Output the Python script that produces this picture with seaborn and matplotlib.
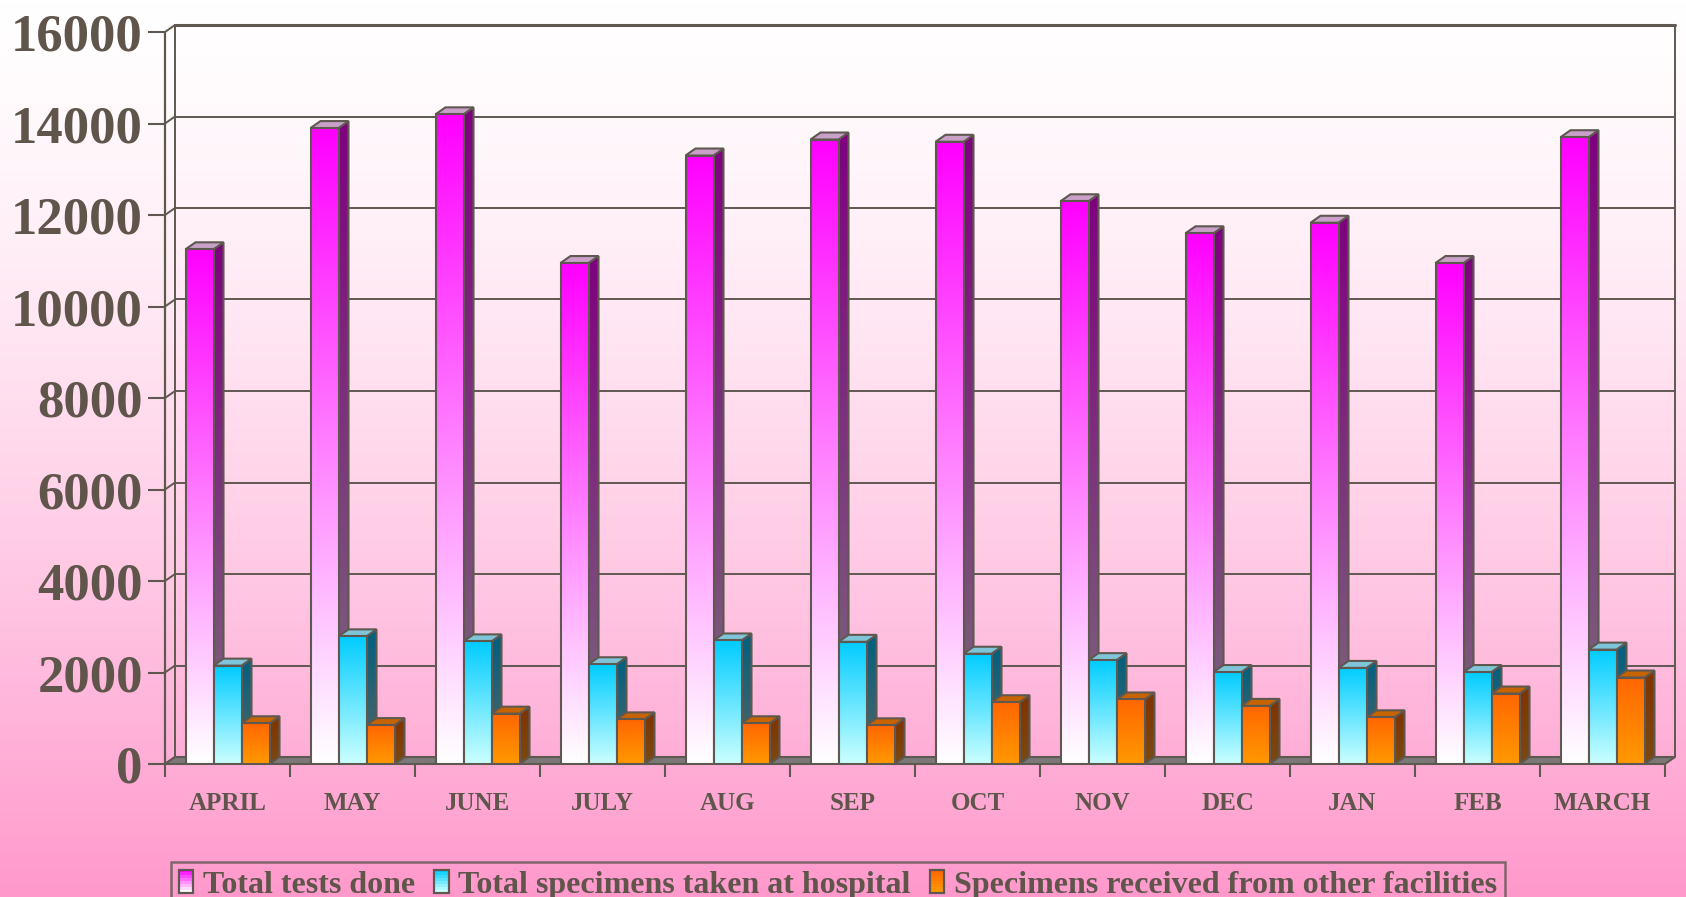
import numpy as np
import pandas as pd
import seaborn as sns
import matplotlib.pyplot as plt
from matplotlib.patches import Polygon, Patch, Rectangle
from matplotlib.legend_handler import HandlerBase
from matplotlib.colors import to_rgb

# Data
months = ['APRIL', 'MAY', 'JUNE', 'JULY', 'AUG', 'SEP', 'OCT', 'NOV', 'DEC', 'JAN', 'FEB', 'MARCH']
series_names = ['Total tests done', 'Total specimens taken at hospital',
                'Specimens received from other facilities']
total_tests = [11250, 13900, 14200, 10950, 13300, 13650, 13600, 12300, 11600, 11830, 10950, 13700]
hospital = [2150, 2790, 2680, 2180, 2700, 2670, 2410, 2270, 2010, 2100, 2010, 2500]
other_facilities = [890, 850, 1100, 975, 890, 845, 1350, 1410, 1270, 1020, 1540, 1890]
yticks = [0, 2000, 4000, 6000, 8000, 10000, 12000, 14000, 16000]

# Styles
sns.set_theme(style='white')
plt.rcParams['font.family'] = ['Liberation Serif', 'DejaVu Serif']
plt.rcParams['font.weight'] = 'bold'

line_c = '#5f5850'
text_c = '#5f554b'
front_cols = [('#ff00ff', '#ffffff'), ('#00ccff', '#ccffff'), ('#ff6600', '#ff9900')]
side_cols = [('#800080', '#7a6c7a'), ('#006080', '#5a6464'), ('#803300', '#7a4a14')]
top_cols = ['#c8a0c8', '#80c4d8', '#c86400']


def grad(top, bottom, n=256, power=1.0):
    t = (np.linspace(0, 1, n) ** power)[:, None, None]
    return np.asarray(to_rgb(top))[None, None, :] * (1 - t) + np.asarray(to_rgb(bottom))[None, None, :] * t


class GradHandler(HandlerBase):
    # legend key: little box with vertical gradient
    def __init__(self, top, bottom):
        super().__init__()
        self.top, self.bottom = top, bottom

    def create_artists(self, legend, orig_handle, xdescent, ydescent, width, height, fontsize, trans):
        n = 8
        cols = grad(self.top, self.bottom, n=n)[:, 0, :]
        arts = []
        for i in range(n):
            y = -ydescent + height * (1 - (i + 1) / n)
            arts.append(Rectangle((-xdescent, y), width, height / n + 0.3, fc=cols[i], ec='none',
                                  transform=trans))
        arts.append(Rectangle((-xdescent, -ydescent), width, height, fc='none', ec=line_c, lw=1.6,
                              transform=trans))
        return arts


df = pd.DataFrame({
    'month': months * 3,
    'value': total_tests + hospital + other_facilities,
    'series': np.repeat(series_names, len(months)),
})

W, H = 1686, 897
fig = plt.figure(figsize=(W / 100, H / 100), dpi=100)

# background gradient
bg = fig.add_axes([0, 0, 1, 1], zorder=-5)
bg.imshow(grad('#ffffff', '#ff99cc', power=1.4), aspect='auto', extent=[0, 1, 0, 1])
bg.axis('off')

# 3D geometry (pixels -> data units)
x_px, y_px = 125.0, 732.0 / 16000
ddx, ddy = 10 / x_px, 7 / y_px
x0, x1 = -0.5, len(months) - 0.5
ytop = 16000 + ddy
ax = fig.add_axes([165 / W, (H - 764) / H, (x1 + ddx - x0) * x_px / W, ytop * y_px / H])
ax.set_facecolor('none')

sns.barplot(data=df, x='month', y='value', hue='series', order=months, hue_order=series_names,
            palette=[c[0] for c in front_cols], width=0.672, saturation=1, legend=False, ax=ax)

for k, cont in enumerate(ax.containers):
    base = 2 + k
    for rect in cont:
        x, w, h = rect.get_x(), rect.get_width(), rect.get_height()
        # front face
        ax.imshow(grad(*front_cols[k]), extent=[x, x + w, 0, h], aspect='auto',
                  interpolation='bilinear', zorder=base + 0.3)
        rect.set_facecolor('none')
        rect.set_edgecolor(line_c)
        rect.set_linewidth(1.5)
        rect.set_zorder(base + 0.4)
        # side face
        side = Polygon([(x + w, 0), (x + w + ddx, ddy), (x + w + ddx, h + ddy), (x + w, h)],
                       closed=True, fc='none', ec=line_c, lw=1.5, zorder=base + 0.2)
        ax.add_patch(side)
        im = ax.imshow(grad(*side_cols[k]), extent=[x + w, x + w + ddx, 0, h + ddy], aspect='auto',
                       interpolation='bilinear', zorder=base + 0.1)
        im.set_clip_path(side)
        # top face
        ax.add_patch(Polygon([(x, h), (x + w, h), (x + w + ddx, h + ddy), (x + ddx, h + ddy)],
                             closed=True, fc=top_cols[k], ec=line_c, lw=1.5, zorder=base + 0.2))

# floor
ax.add_patch(Polygon([(x0, 0), (x1, 0), (x1 + ddx, ddy), (x0 + ddx, ddy)], closed=True,
                     fc='#7d7878', ec=line_c, lw=1.5, zorder=1.5, clip_on=False))

# back wall grid, side wall
for v in yticks[1:]:
    ax.plot([x0 + ddx, x1 + ddx], [v + ddy, v + ddy], color=line_c,
            lw=2.2 if v == yticks[-1] else 1.4, zorder=1, clip_on=False)
for v in yticks:
    ax.plot([x0, x0 + ddx], [v, v + ddy], color=line_c, lw=1.4, zorder=1, clip_on=False)
ax.plot([x0, x0], [0, yticks[-1]], color=line_c, lw=1.6, zorder=1, clip_on=False)
ax.plot([x0 + ddx, x0 + ddx], [ddy, ytop], color=line_c, lw=1.4, zorder=1, clip_on=False)
ax.plot([x1 + ddx, x1 + ddx], [ddy, ytop], color=line_c, lw=1.4, zorder=1, clip_on=False)

ax.set_xlim(x0, x1 + ddx)
ax.set_ylim(0, ytop)
for s in ax.spines.values():
    s.set_visible(False)
ax.set_xlabel('')
ax.set_ylabel('')

ax.set_yticks(yticks)
ax.set_yticklabels([str(v) for v in yticks], fontsize=38, fontweight='bold', color=text_c)
ax.tick_params(axis='y', left=True, length=12, width=1.5, color=line_c, direction='out', pad=4)

ax.set_xticks(range(len(months)))
ax.set_xticklabels(months, fontsize=18, fontweight='bold', color=text_c)
ax.set_xticks(np.arange(x0, x1 + 0.01, 1), minor=True)
ax.tick_params(axis='x', which='major', bottom=False, length=0, pad=20)
ax.tick_params(axis='x', which='minor', bottom=True, length=9.5, width=1.5, color=line_c, direction='out')
ax.grid(False)

# legend
handles = [Patch(label=n) for n in series_names]
leg = fig.legend(handles, series_names, loc='upper center', bbox_to_anchor=(0.497, 1 - 846 / H), ncol=3,
                 frameon=True, fancybox=False, edgecolor=line_c, facecolor='none',
                 prop={'size': 23, 'weight': 'bold'}, labelcolor=text_c, handlelength=0.45,
                 handleheight=0.75, handletextpad=0.3, columnspacing=0.6, borderpad=0.25,
                 handler_map={h: GradHandler(*front_cols[i]) for i, h in enumerate(handles)})
leg.get_frame().set_linewidth(1.8)

fig.savefig('out.png', dpi=100)
